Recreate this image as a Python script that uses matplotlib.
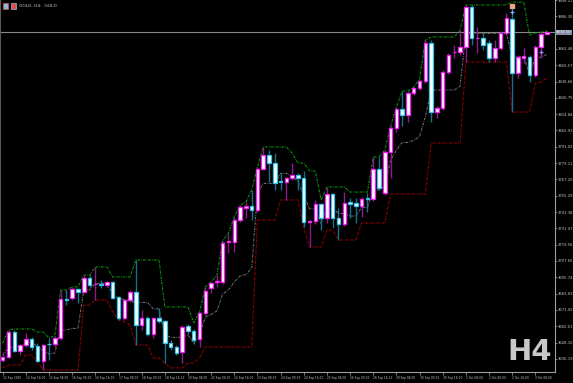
import matplotlib.pyplot as plt
from matplotlib.patches import Rectangle
from matplotlib.transforms import blended_transform_factory

# GOLD H4 candles, 12 Sep 2025 - 3 Oct 2025
opens = [3635.4, 3637.6, 3655.8, 3642.0, 3646.3, 3650.7, 3645.6, 3634.7, 3647.4, 3647.1,
         3651.5, 3679.9, 3680.7, 3687.2, 3685.0, 3695.3, 3690.5, 3690.9, 3690.1, 3692.3,
         3681.4, 3666.1, 3679.2, 3685.0, 3660.9, 3666.1, 3654.4, 3666.1, 3663.9, 3647.8,
         3644.9, 3641.2, 3660.2, 3656.6, 3650.7, 3669.7, 3688.0, 3692.0, 3692.3, 3721.2,
         3721.5, 3737.6, 3746.7, 3747.8, 3744.9, 3774.8, 3785.0, 3779.2, 3765.7, 3765.3,
         3768.3, 3770.4, 3768.3, 3735.8, 3736.9, 3749.3, 3739.1, 3756.6, 3739.1, 3734.7,
         3750.7, 3750.0, 3747.8, 3753.3, 3752.9, 3774.8, 3757.3, 3787.2, 3804.8, 3818.6,
         3814.2, 3830.3, 3834.0, 3839.1, 3866.8, 3816.4, 3819.4, 3845.6, 3859.9, 3860.2,
         3863.9, 3893.1, 3870.1, 3870.5, 3866.8, 3855.9, 3863.2, 3874.1, 3884.3, 3844.9,
         3856.2, 3856.6, 3843.4, 3863.9, 3873.7]
highs = [3641.2, 3657.3, 3657.3, 3647.1, 3655.1, 3652.2, 3647.8, 3647.1, 3651.5, 3652.9,
         3686.5, 3686.5, 3688.7, 3688.0, 3697.4, 3697.4, 3703.3, 3693.8, 3693.1, 3693.1,
         3682.1, 3679.9, 3686.5, 3708.4, 3671.9, 3667.5, 3666.8, 3673.4, 3664.6, 3650.0,
         3646.3, 3660.9, 3661.7, 3658.0, 3670.4, 3688.7, 3692.3, 3697.4, 3722.3, 3728.1,
         3739.8, 3748.5, 3750.7, 3759.5, 3776.3, 3790.9, 3788.7, 3786.5, 3771.9, 3769.0,
         3779.2, 3771.9, 3773.4, 3737.6, 3752.2, 3750.0, 3761.7, 3757.3, 3746.4, 3758.0,
         3753.7, 3753.7, 3754.4, 3757.3, 3783.6, 3783.6, 3788.7, 3806.2, 3820.1, 3831.8,
         3831.8, 3834.7, 3840.5, 3869.0, 3869.0, 3820.8, 3847.1, 3859.5, 3865.3, 3876.3,
         3894.6, 3894.6, 3878.5, 3874.1, 3869.0, 3869.0, 3875.6, 3888.7, 3894.6, 3858.0,
         3863.2, 3858.0, 3865.3, 3874.8, 3875.6]
lows = [3633.9, 3636.9, 3641.2, 3639.0, 3644.9, 3642.7, 3633.9, 3628.1, 3635.4, 3644.9,
        3650.0, 3675.5, 3679.2, 3677.0, 3684.3, 3688.7, 3679.2, 3688.0, 3688.7, 3679.9,
        3664.6, 3664.6, 3677.7, 3646.3, 3657.3, 3652.9, 3651.5, 3662.4, 3633.2, 3642.7,
        3639.0, 3633.2, 3654.4, 3647.1, 3644.9, 3668.2, 3684.3, 3688.7, 3690.9, 3713.5,
        3714.2, 3736.1, 3739.1, 3737.6, 3743.4, 3774.1, 3765.3, 3759.5, 3759.5, 3752.2,
        3766.8, 3759.5, 3732.5, 3717.9, 3734.7, 3730.3, 3735.4, 3731.8, 3723.0, 3733.2,
        3739.1, 3735.4, 3739.8, 3743.4, 3751.5, 3759.5, 3755.8, 3768.3, 3801.8, 3806.2,
        3809.1, 3828.8, 3832.5, 3837.6, 3809.1, 3812.1, 3817.9, 3844.2, 3855.9, 3858.0,
        3852.9, 3865.3, 3859.5, 3861.7, 3852.9, 3852.9, 3861.7, 3872.6, 3816.4, 3841.3,
        3852.2, 3838.3, 3842.0, 3855.9, 3873.4]
closes = [3637.6, 3655.8, 3642.0, 3646.3, 3650.7, 3644.9, 3634.7, 3646.3, 3646.7, 3651.5,
          3679.9, 3679.2, 3687.2, 3685.0, 3695.3, 3690.1, 3691.2, 3690.1, 3692.3, 3680.7,
          3666.1, 3679.2, 3685.0, 3660.9, 3666.1, 3654.4, 3666.1, 3663.9, 3647.8, 3644.9,
          3640.5, 3659.5, 3656.6, 3650.0, 3669.7, 3685.8, 3691.6, 3692.7, 3720.8, 3721.9,
          3737.6, 3747.1, 3747.5, 3744.9, 3774.8, 3785.0, 3779.2, 3764.6, 3765.0, 3768.3,
          3770.4, 3768.3, 3736.1, 3736.5, 3749.3, 3739.1, 3756.6, 3739.1, 3734.7, 3750.0,
          3749.6, 3747.8, 3752.9, 3752.6, 3774.8, 3761.0, 3787.2, 3804.8, 3818.6, 3814.2,
          3830.3, 3834.0, 3839.1, 3866.8, 3816.4, 3819.4, 3845.6, 3858.0, 3860.6, 3863.9,
          3893.1, 3870.5, 3870.8, 3865.3, 3855.9, 3863.2, 3874.1, 3885.1, 3844.9, 3856.6,
          3857.0, 3843.4, 3863.9, 3873.4, 3874.5]

# channel indicator: upper (green), lower (red), middle (gray)
upper = [3647.8, 3657.3, 3658.0, 3658.0, 3658.0, 3658.0, 3655.8, 3655.8, 3651.5, 3652.9,
         3686.5, 3686.5, 3688.7, 3688.7, 3697.4, 3697.4, 3703.3, 3703.3, 3703.3, 3696.0,
         3696.0, 3696.0, 3696.0, 3708.4, 3708.4, 3708.4, 3708.4, 3708.4, 3674.1, 3674.1,
         3674.1, 3674.1, 3674.1, 3662.4, 3670.4, 3688.7, 3692.3, 3697.4, 3722.3, 3728.1,
         3739.8, 3748.5, 3750.7, 3759.5, 3776.3, 3790.9, 3790.9, 3790.9, 3790.9, 3790.9,
         3786.5, 3779.2, 3779.2, 3773.4, 3773.4, 3752.2, 3761.7, 3761.7, 3761.7, 3761.7,
         3758.0, 3758.0, 3758.0, 3758.0, 3783.6, 3783.6, 3788.7, 3806.2, 3820.1, 3831.8,
         3831.8, 3834.7, 3840.5, 3869.0, 3871.2, 3871.2, 3871.2, 3871.2, 3871.2, 3876.3,
         3894.6, 3894.6, 3894.6, 3894.6, 3894.6, 3894.6, 3894.6, 3894.6, 3896.7, 3896.7,
         3896.7, 3872.6, 3874.1, 3874.8, 3875.6]
lower = [3629.6, 3631.7, 3631.7, 3631.7, 3639.0, 3639.0, 3633.9, 3628.1, 3628.1, 3628.1,
         3628.1, 3628.1, 3628.1, 3628.1, 3675.5, 3675.5, 3679.2, 3679.2, 3679.2, 3670.4,
         3664.6, 3663.1, 3660.9, 3646.3, 3646.3, 3646.3, 3636.9, 3636.9, 3633.2, 3629.6,
         3629.6, 3629.6, 3633.2, 3633.2, 3636.9, 3644.9, 3644.9, 3644.9, 3644.9, 3644.9,
         3644.9, 3644.9, 3644.9, 3644.9, 3737.6, 3737.6, 3737.6, 3737.6, 3752.2, 3752.2,
         3752.2, 3752.2, 3732.5, 3717.9, 3717.9, 3717.9, 3730.3, 3730.3, 3723.0, 3723.0,
         3723.0, 3723.0, 3735.4, 3735.4, 3735.4, 3735.4, 3735.4, 3756.6, 3756.6, 3756.6,
         3756.6, 3756.6, 3756.6, 3756.6, 3793.8, 3793.8, 3793.8, 3793.8, 3793.8, 3793.8,
         3852.9, 3852.9, 3852.9, 3852.9, 3852.9, 3852.9, 3852.9, 3852.9, 3816.4, 3816.4,
         3816.4, 3816.4, 3837.6, 3838.3, 3841.3]
middle = [3638.7, 3644.5, 3644.9, 3644.9, 3648.5, 3648.5, 3644.9, 3642.0, 3639.8, 3640.5,
          3657.3, 3657.3, 3658.4, 3658.4, 3686.5, 3686.5, 3691.3, 3691.3, 3691.3, 3683.2,
          3680.3, 3679.6, 3678.5, 3677.4, 3677.4, 3677.4, 3672.7, 3672.7, 3653.7, 3651.9,
          3651.9, 3651.9, 3653.7, 3647.8, 3653.7, 3666.8, 3668.6, 3671.2, 3683.6, 3686.5,
          3692.4, 3696.7, 3697.8, 3702.2, 3757.0, 3764.3, 3764.3, 3764.3, 3771.6, 3771.6,
          3769.4, 3765.7, 3755.9, 3745.7, 3745.7, 3735.1, 3746.0, 3746.0, 3742.4, 3742.4,
          3740.5, 3740.5, 3746.7, 3746.7, 3759.5, 3759.5, 3762.1, 3781.4, 3788.4, 3794.2,
          3794.2, 3795.7, 3798.6, 3812.8, 3832.5, 3832.5, 3832.5, 3832.5, 3832.5, 3835.1,
          3873.8, 3873.8, 3873.8, 3873.8, 3873.8, 3873.8, 3873.8, 3873.8, 3856.6, 3856.6,
          3856.6, 3844.5, 3855.9, 3856.6, 3858.5]

price_ticks = [3898.21, 3886.30, 3874.39, 3862.48, 3850.57, 3838.66, 3826.75, 3814.84,
               3802.93, 3791.02, 3779.11, 3767.20, 3755.29, 3743.38, 3731.47, 3719.56,
               3707.65, 3695.74, 3683.83, 3671.92, 3660.01, 3648.10, 3636.19]
time_bars = [0, 4, 8, 12, 16, 20, 24, 28, 32, 36, 40, 44, 48, 52, 56, 60, 64, 68, 72, 76, 80, 84, 88, 92]
time_labels = ["12 Sep 2025", "12 Sep 16:00", "15 Sep 08:00", "16 Sep 00:00", "16 Sep 16:00",
               "17 Sep 08:00", "18 Sep 00:00", "18 Sep 16:00", "19 Sep 08:00", "22 Sep 00:00",
               "22 Sep 16:00", "23 Sep 08:00", "24 Sep 00:00", "24 Sep 16:00", "25 Sep 08:00",
               "26 Sep 00:00", "26 Sep 16:00", "29 Sep 08:00", "30 Sep 00:00", "30 Sep 16:00",
               "1 Oct 08:00", "2 Oct 00:00", "2 Oct 16:00", "3 Oct 08:00"]
last_price = 3874.5

BULL_EDGE = "#ff1aff"
BULL_WICK = "#8e1a8e"
BEAR_EDGE = "#30c4e6"
BEAR_WICK = "#17708e"
TXT = "#c8c8c8"

fig = plt.figure(figsize=(5.73, 3.83), dpi=100, facecolor="black")
ax = fig.add_axes([0, 11 / 383, 555 / 573, 372 / 383], facecolor="black")

# last price line
ax.axhline(last_price, color="#8a8a8a", lw=0.8, zorder=1)

# indicator lines
xs = list(range(len(opens)))
dash = (0, (2.2, 1.0, 0.7, 1.0))
ax.plot(xs, middle, color="#6e6e6e", lw=0.8, ls=dash, zorder=1)
ax.plot(xs, upper, color="#0a9a0a", lw=0.8, ls=dash, zorder=1)
ax.plot(xs, lower, color="#a00000", lw=0.8, ls=dash, zorder=1)

# candles
for i in xs:
    o, h, l, c = opens[i], highs[i], lows[i], closes[i]
    bull = c >= o
    ax.vlines(i, l, h, color=BULL_WICK if bull else BEAR_WICK, lw=1.0, zorder=2)
    lo, hi = min(o, c), max(o, c)
    ax.add_patch(Rectangle((i - 0.3, lo), 0.6, hi - lo, facecolor="white",
                           edgecolor=BULL_EDGE if bull else BEAR_EDGE, lw=0.9, zorder=3))

# signal marks
ax.plot(88, 3893.6, marker="s", color="#f0a48c", ms=2.6, zorder=4)
ax.plot(88, 3889.4, marker="+", color="#7ab0ff", ms=3.5, mew=0.9, zorder=4)
ax.plot(93, 3860.2, marker="+", color="#9a80ff", ms=3.5, mew=0.9, zorder=4)

ax.set_xlim(-0.47, 95.4)
ax.set_ylim(3626.6, 3898.2)

ax.spines["top"].set_visible(False)
ax.spines["left"].set_color("#5a5a5a")
ax.spines["right"].set_color("#a0a0a0")
ax.spines["bottom"].set_color("#a0a0a0")
for s in ["left", "right", "bottom"]:
    ax.spines[s].set_linewidth(0.8)

# the tick under the price tag is hidden by the tag, as on the terminal
ax.yaxis.tick_right()
ax.set_yticks(price_ticks)
ax.set_yticklabels(["" if abs(p - last_price) < 2 else "%.2f" % p for p in price_ticks])
ax.tick_params(axis="y", labelsize=2.7, colors="#a0a0a0", labelcolor=TXT,
               length=1.5, width=0.5, pad=0.6)
ax.set_xticks(time_bars)
ax.set_xticklabels(time_labels, ha="left")
ax.tick_params(axis="x", labelsize=2.1, colors="#a0a0a0", labelcolor=TXT,
               length=2, width=0.5, pad=1)

# current price tag on the scale
tr = blended_transform_factory(ax.transAxes, ax.transData)
ax.text(1.002, last_price, "%.2f" % last_price, transform=tr, fontsize=2.7,
        color="white", va="center", ha="left", zorder=6,
        bbox=dict(facecolor="#7d8ea6", edgecolor="none", pad=0.6))

# header
fig.add_artist(Rectangle((3 / 573, 1 - 9 / 383), 5 / 573, 6 / 383, transform=fig.transFigure,
                         facecolor="#8fb4e0", edgecolor="#d05050", lw=0.5))
fig.add_artist(Rectangle((11 / 573, 1 - 9 / 383), 5 / 573, 6 / 383, transform=fig.transFigure,
                         facecolor="#e05050", edgecolor="#8fb4e0", lw=0.5))
fig.text(19 / 573, 1 - 6 / 383, "GOLD, H4:  GOLD", fontsize=3.2, color=TXT, va="center")

# timeframe watermark
fig.text(530 / 573, 1 - 352 / 383, "H4", fontsize=21, fontweight="bold",
         color="#c8c8c8", ha="center", va="center")

fig.savefig("out.png", dpi=100, facecolor="black")
